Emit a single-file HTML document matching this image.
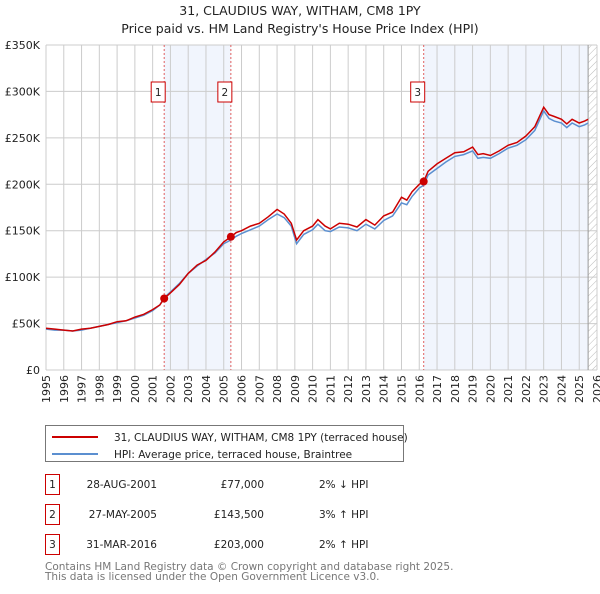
<!DOCTYPE html>
<html><head><meta charset="utf-8">
<style>
body{margin:0;background:#fff;font-family:"DejaVu Sans","Liberation Sans",sans-serif;}
svg text{font-family:"DejaVu Sans","Liberation Sans",sans-serif;}
</style></head>
<body>
<svg id="c" width="600" height="590" xmlns="http://www.w3.org/2000/svg">
<text x="300" y="15" text-anchor="middle" font-size="12.5" fill="#222">31, CLAUDIUS WAY, WITHAM, CM8 1PY</text>
<text x="300" y="33" text-anchor="middle" font-size="12.5" fill="#222">Price paid vs. HM Land Registry's House Price Index (HPI)</text>
<defs><pattern id="hatch" width="5" height="5" patternUnits="userSpaceOnUse" patternTransform="rotate(45)"><line x1="0" y1="0" x2="0" y2="5" stroke="#bbb" stroke-width="1"/></pattern></defs>
<g id="plot"></g>
<g>
<rect x="45.5" y="425.5" width="358" height="36" fill="#fff" stroke="#777"/>
<line x1="52" y1="437" x2="98" y2="437" stroke="#cc0000" stroke-width="2"/>
<text x="114" y="441" font-size="10.5" fill="#222">31, CLAUDIUS WAY, WITHAM, CM8 1PY (terraced house)</text>
<line x1="52" y1="454" x2="98" y2="454" stroke="#5b8fd0" stroke-width="2"/>
<text x="114" y="458" font-size="10.5" fill="#222">HPI: Average price, terraced house, Braintree</text>
</g>
<g font-size="10.5" fill="#222">
<rect x="45.5" y="474.5" width="14" height="20" fill="none" stroke="#cc0000"/><text x="52.5" y="488" text-anchor="middle">1</text>
<text x="157" y="488" text-anchor="end">28-AUG-2001</text><text x="264" y="488" text-anchor="end">£77,000</text><text x="319" y="488">2% ↓ HPI</text>
<rect x="45.5" y="504.5" width="14" height="20" fill="none" stroke="#cc0000"/><text x="52.5" y="518" text-anchor="middle">2</text>
<text x="157" y="518" text-anchor="end">27-MAY-2005</text><text x="264" y="518" text-anchor="end">£143,500</text><text x="319" y="518">3% ↑ HPI</text>
<rect x="45.5" y="534.5" width="14" height="20" fill="none" stroke="#cc0000"/><text x="52.5" y="548" text-anchor="middle">3</text>
<text x="157" y="548" text-anchor="end">31-MAR-2016</text><text x="264" y="548" text-anchor="end">£203,000</text><text x="319" y="548">2% ↑ HPI</text>
</g>
<text x="45" y="570" font-size="10.5" fill="#777">Contains HM Land Registry data © Crown copyright and database right 2025.</text>
<text x="45" y="580" font-size="10.5" fill="#777">This data is licensed under the Open Government Licence v3.0.</text>
</svg>
<script>
const years=[1995,1995.5,1996,1996.5,1997,1997.5,1998,1998.5,1999,1999.5,2000,2000.5,2001,2001.4,2001.65,2002,2002.5,2003,2003.5,2004,2004.5,2005,2005.4,2005.7,2006,2006.5,2007,2007.5,2008,2008.4,2008.8,2009.1,2009.5,2010,2010.3,2010.7,2011,2011.5,2012,2012.5,2013,2013.5,2014,2014.5,2015,2015.3,2015.6,2016,2016.25,2016.5,2017,2017.5,2018,2018.5,2019,2019.3,2019.6,2020,2020.5,2021,2021.5,2022,2022.5,2023,2023.3,2023.6,2024,2024.3,2024.6,2025,2025.3,2025.5];
const propertyValues=[45,44,43,42,44,45,47,49,52,53,57,60,65,70,77,83,92,104,113,118,127,138,143.5,148,150,155,158,165,173,168,158,140,150,155,162,155,152,158,157,154,162,156,166,170,186,183,192,200,203,214,222,228,234,235,240,232,233,231,236,242,245,252,262,283,275,273,270,265,270,266,268,270];
const hpiValues=[44,43,43,42,43,45,47,49,51,53,56,59,64,70,78,84,93,104,112,119,126,136,140,144,147,151,155,162,168,164,155,136,146,151,157,150,149,154,153,150,157,152,161,166,180,178,187,196,199,210,217,224,230,232,236,228,229,228,233,239,242,248,258,279,271,268,266,261,266,262,264,266];
const yTicks=[0,50,100,150,200,250,300,350];
const yTickLabels=["£0","£50K","£100K","£150K","£200K","£250K","£300K","£350K"];
const xTickYears=[1995,1996,1997,1998,1999,2000,2001,2002,2003,2004,2005,2006,2007,2008,2009,2010,2011,2012,2013,2014,2015,2016,2017,2018,2019,2020,2021,2022,2023,2024,2025,2026];
const saleYears=[2001.65,2005.4,2016.25];
const saleValues=[77,143.5,203];
const saleLabels=["1","2","3"];
const X0=46,X1=597,Y0=370,Y1=45;
const xs=y=>X0+(y-1995)/(2026-1995)*(X1-X0);
const ys=v=>Y0-v/350*(Y0-Y1);
const NS="http://www.w3.org/2000/svg";
const g=document.getElementById('plot');
function mk(t,a){const e=document.createElementNS(NS,t);for(const k in a)e.setAttribute(k,a[k]);g.appendChild(e);return e;}
let r;
r=mk('rect',{x:xs(saleYears[0]),y:Y1,width:xs(saleYears[1])-xs(saleYears[0]),height:Y0-Y1,fill:'#eef3fc',opacity:0.8});


r=mk('rect',{x:xs(saleYears[2]),y:Y1,width:xs(2025.5)-xs(saleYears[2]),height:Y0-Y1,fill:'#eef3fc',opacity:0.8});


r=mk('rect',{x:xs(2025.5),y:Y1,width:X1-xs(2025.5),height:Y0-Y1,fill:'url(#hatch)'});


xTickYears.forEach(yr=>{
 const l=mk('line',{x1:xs(yr),x2:xs(yr),y1:Y1,y2:Y0,stroke:'#ccc','stroke-width':1});
 
 
 const t=mk('text',{x:0,y:0,'font-size':11,fill:'#222','text-anchor':'end',transform:`translate(${xs(yr)+4},${Y0+5}) rotate(-90)`});
 t.textContent=yr;
 
 
});
yTicks.forEach((v,i)=>{
 const l=mk('line',{x1:X0,x2:X1,y1:ys(v),y2:ys(v),stroke:'#ccc','stroke-width':1});
 
 
 const t=mk('text',{x:X0-6,y:ys(v)+4,'font-size':11,fill:'#222','text-anchor':'end'});
 t.textContent=yTickLabels[i];
 
 
});
r=mk('line',{x1:xs(2025.5),x2:xs(2025.5),y1:Y1,y2:Y0,stroke:'#999','stroke-width':1});


saleYears.forEach((yr,i)=>{
 const l=mk('line',{x1:xs(yr),x2:xs(yr),y1:Y1,y2:Y0,stroke:'#e06060','stroke-width':1,'stroke-dasharray':'2,2'});
 
 
});
const pts=(arr)=>years.map((y,i)=>xs(y).toFixed(1)+','+ys(arr[i]).toFixed(1)).join(' ');
r=mk('polyline',{points:pts(hpiValues),fill:'none',stroke:'#5b8fd0','stroke-width':1.5});


r=mk('polyline',{points:pts(propertyValues),fill:'none',stroke:'#cc0000','stroke-width':1.5});


saleYears.forEach((yr,i)=>{
 const c=mk('circle',{cx:xs(yr),cy:ys(saleValues[i]),r:4,fill:'#cc0000'});
 
 
 const b=mk('rect',{x:xs(yr)-13,y:82,width:14,height:20,fill:'#fff',stroke:'#cc0000'});
 
 
 const t=mk('text',{x:xs(yr)-6,y:96,'font-size':10.5,fill:'#222','text-anchor':'middle'});
 t.textContent=saleLabels[i];
 
 
});
</script>
</body></html>
